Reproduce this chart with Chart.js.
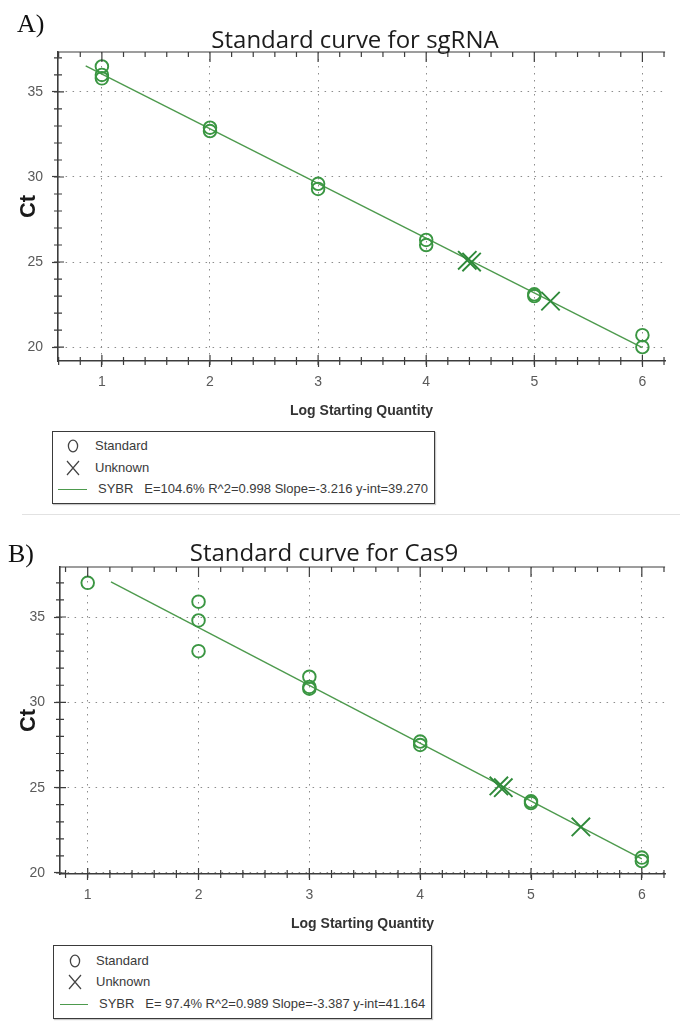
<!DOCTYPE html>
<html>
<head>
<meta charset="utf-8">
<script src="https://cdn.jsdelivr.net/npm/chart.js@4/dist/chart.umd.min.js"></script>
<style>
  body { margin: 0; background: #fff; }
  #page { position: relative; width: 680px; height: 1021px; overflow: hidden; background: #fff;
          font-family: "Liberation Sans", Arial, sans-serif; }
  .panel { position: absolute; left: 0; width: 680px; height: 428px; }
  .rule { position: absolute; left: 22px; right: 0; top: 514px; height: 0; border-top: 1.5px solid #e2e2e2; }
  .key { position: absolute; background: #fff; border: 1.5px solid #3a3a3a; box-shadow: 1px 1px 1px #c8c8c8; }
  .key .row { position: absolute; height: 16px; line-height: 16px; font-size: 13px; color: #3a3a3a; white-space: pre; }
  .key svg { position: absolute; }
  .key .swatch { position: absolute; height: 0; border-top: 1.3px solid #4d9a4d; }
</style>
</head>
<body>
<div id="page">
  <canvas id="curveA" class="panel" width="680" height="428" style="top:0"></canvas>
  <div class="rule"></div>
  <canvas id="curveB" class="panel" width="680" height="428" style="top:515px"></canvas>
  <div id="keyA" class="key"></div>
  <div id="keyB" class="key"></div>
</div>
<script>
// ---- data ----
const xTicks = [1, 2, 3, 4, 5, 6];
const yTicks = [20, 25, 30, 35];

// A) sgRNA
const sgStdX = [1, 1, 1, 2, 2, 3, 3, 4, 4, 5, 5, 6, 6];
const sgStdY = [36.5, 36.0, 35.8, 32.9, 32.7, 29.6, 29.3, 26.3, 26.0, 23.1, 23.0, 20.7, 20.0];
const sgUnkX = [4.38, 4.42, 5.15];
const sgUnkY = [25.1, 25.0, 22.7];
const sgFitX = [0.85, 6.0];
const sgFitY = [36.54, 19.97];
const sgStats = ['104.6%', '0.998', '-3.216', '39.270'];

// B) Cas9
const casStdX = [1, 2, 2, 2, 3, 3, 3, 4, 4, 5, 5, 6, 6];
const casStdY = [37.0, 35.9, 34.8, 33.0, 31.5, 30.9, 30.8, 27.7, 27.5, 24.2, 24.1, 20.9, 20.7];
const casUnkX = [4.71, 4.75, 5.45];
const casUnkY = [25.1, 25.0, 22.7];
const casFitX = [1.21, 6.0];
const casFitY = [37.06, 20.83];
const casStats = [' 97.4%', '0.989', '-3.387', '41.164'];

const GREEN = '#3a9642';
const AXIS = '#3c3c3c';
const SANS = '"Liberation Sans", Arial, sans-serif';

// Pair x and y arrays into Chart.js points
const pts = (xs, ys) => xs.map((x, i) => ({ x, y: ys[i] }));

// Draws the top border, minor tick marks, the panel letter and the title
const frame = {
  id: 'frame',
  afterDraw(chart, args, o) {
    const { ctx, chartArea: a, scales: { x, y } } = chart;
    ctx.save();
    ctx.strokeStyle = AXIS;
    ctx.lineWidth = 1.2;
    ctx.beginPath();
    ctx.moveTo(a.left, a.top);
    ctx.lineTo(a.right, a.top);
    for (let i = Math.ceil(x.min * 5); i / 5 <= x.max; i++) {
      const px = x.getPixelForValue(i / 5);
      const major = i % 5 === 0;
      ctx.moveTo(px, a.top);
      ctx.lineTo(px, a.top + (major ? 10 : 5));
      ctx.moveTo(px, a.bottom - (major ? 6 : 4));
      ctx.lineTo(px, a.bottom + 4);
    }
    for (let v = Math.ceil(y.min); v <= y.max; v++) {
      const py = y.getPixelForValue(v);
      ctx.moveTo(a.left - 4, py);
      ctx.lineTo(a.left + (v % 5 === 0 ? 6 : 4), py);
    }
    ctx.stroke();

    ctx.fillStyle = '#111';
    ctx.textBaseline = 'alphabetic';
    ctx.font = '26px "Liberation Serif", "Times New Roman", serif';
    ctx.textAlign = 'left';
    ctx.fillText(o.tag, o.tagX, o.tagY);
    ctx.fillStyle = '#1c1c1c';
    ctx.font = '24px "Open Sans", "Noto Sans", sans-serif';
    ctx.textAlign = 'center';
    ctx.fillText(o.title, o.titleX, o.titleY);
    ctx.restore();
  }
};

class CurvePanel {
  constructor(id, data, box) {
    this.ctx = document.getElementById(id).getContext('2d');
    this.box = box;
    this.chart = new Chart(this.ctx, this.config(data));
  }

  config(d) {
    const b = this.box;
    return {
      type: 'scatter',
      data: {
        datasets: [
          { label: 'SYBR', data: pts(d.fitX, d.fitY), showLine: true, borderColor: '#4d9a4d',
            borderWidth: 1.4, pointRadius: 0, order: 3 },
          { label: 'Standard', data: pts(d.stdX, d.stdY), pointStyle: 'circle', pointRadius: 6.3,
            pointBorderWidth: 1.9, borderColor: GREEN, backgroundColor: 'rgba(0,0,0,0)', order: 1 },
          { label: 'Unknown', data: pts(d.unkX, d.unkY), pointStyle: 'crossRot', pointRadius: 13,
            pointBorderWidth: 1.9, borderColor: '#2f8a3a', order: 2 }
        ]
      },
      options: {
        responsive: false,
        animation: false,
        events: [],
        layout: { padding: { top: b.top, left: 0, right: 0, bottom: 0 } },
        plugins: {
          legend: { display: false },
          tooltip: { enabled: false },
          frame: { tag: b.tag, tagX: b.tagX, tagY: b.tagY, title: d.title, titleX: b.titleX, titleY: b.titleY }
        },
        scales: {
          x: {
            type: 'linear', min: b.xMin, max: b.xMax,
            afterBuildTicks: s => { s.ticks = xTicks.map(value => ({ value })); },
            afterFit: s => { s.height = b.h - b.bottom; s.paddingLeft = 0; s.paddingRight = 0; },
            grid: { color: '#8c8c8c', lineWidth: 1, tickLength: 6, tickColor: AXIS, tickWidth: 1.2 },
            border: { color: AXIS, width: 1.6, dash: [1.5, 5.5] },
            ticks: { color: '#5a5a5a', font: { family: SANS, size: 14 }, padding: 7, maxRotation: 0 },
            title: { display: true, text: 'Log Starting Quantity', color: '#333',
                     font: { family: SANS, size: 14, weight: 'bold' }, padding: { top: 0, bottom: b.xTitlePad } }
          },
          y: {
            type: 'linear', min: b.yMin, max: b.yMax,
            afterBuildTicks: s => { s.ticks = yTicks.map(value => ({ value })); },
            afterFit: s => { s.width = b.left; s.paddingTop = 0; s.paddingBottom = 0; },
            grid: { color: '#8c8c8c', lineWidth: 1, tickLength: 6, tickColor: AXIS, tickWidth: 1.2 },
            border: { color: AXIS, width: 1.6, dash: [1.5, 5.5] },
            ticks: { color: '#5a5a5a', font: { family: SANS, size: 14 }, padding: 9 },
            title: { display: true, text: 'Ct', color: '#1a1a1a',
                     font: { family: SANS, size: 22, weight: 'bold' }, padding: { top: 16, bottom: 0 } }
          }
        }
      },
      plugins: [frame]
    };
  }
}

// Build the boxed key under each chart (positions relative to the box)
function buildKey(id, stats, k) {
  const el = document.getElementById(id);
  Object.assign(el.style, { left: k.left + 'px', top: k.top + 'px', width: k.width + 'px', height: k.height + 'px' });
  const [e, r2, slope, yint] = stats;
  const rowTop = c => (c - k.top - 1.5 - 8) + 'px';
  el.innerHTML =
    `<svg style="left:${k.symX - 6}px;top:${rowTop(k.rows[0])}" width="12" height="16">
       <ellipse cx="6" cy="8" rx="4.6" ry="5.8" fill="none" stroke="#444" stroke-width="1.3"/></svg>
     <div class="row" style="left:${k.textX}px;top:${rowTop(k.rows[0])}">Standard</div>
     <svg style="left:${k.symX - 8}px;top:${rowTop(k.rows[1])}" width="16" height="16">
       <path d="M2 1L14 15M14 1L2 15" stroke="#444" stroke-width="1.2" fill="none"/></svg>
     <div class="row" style="left:${k.textX}px;top:${rowTop(k.rows[1])}">Unknown</div>
     <div class="swatch" style="left:${k.lineX0}px;width:${k.lineX1 - k.lineX0}px;top:${k.rows[2] - k.top - 1.5}px"></div>
     <div class="row" style="left:${k.fitX}px;top:${rowTop(k.rows[2])}">SYBR   E=${e} R^2=${r2} Slope=${slope} y-int=${yint}</div>`;
}

new CurvePanel('curveA',
  { title: 'Standard curve for sgRNA', stdX: sgStdX, stdY: sgStdY, unkX: sgUnkX, unkY: sgUnkY, fitX: sgFitX, fitY: sgFitY },
  { h: 428, top: 52, left: 58, bottom: 361, xMin: 0.594, xMax: 6.21, yMin: 19.18, yMax: 37.35,
    tag: 'A)', tagX: 17, tagY: 32, titleX: 355, titleY: 48, xTitlePad: 8.6 });

new CurvePanel('curveB',
  { title: 'Standard curve for Cas9', stdX: casStdX, stdY: casStdY, unkX: casUnkX, unkY: casUnkY, fitX: casFitX, fitY: casFitY },
  { h: 428, top: 52, left: 60, bottom: 359, xMin: 0.75, xMax: 6.21, yMin: 19.94, yMax: 37.93,
    tag: 'B)', tagX: 8, tagY: 47, titleX: 324, titleY: 46, xTitlePad: 10.6 });

buildKey('keyA', sgStats, { left: 52, top: 431, width: 381, height: 71, rows: [446, 468, 489],
  symX: 20, textX: 42, lineX0: 5, lineX1: 34, fitX: 45 });
buildKey('keyB', casStats, { left: 53, top: 945, width: 377, height: 72, rows: [961, 982, 1004],
  symX: 21, textX: 42, lineX0: 6, lineX1: 34, fitX: 45 });
</script>
</body>
</html>
